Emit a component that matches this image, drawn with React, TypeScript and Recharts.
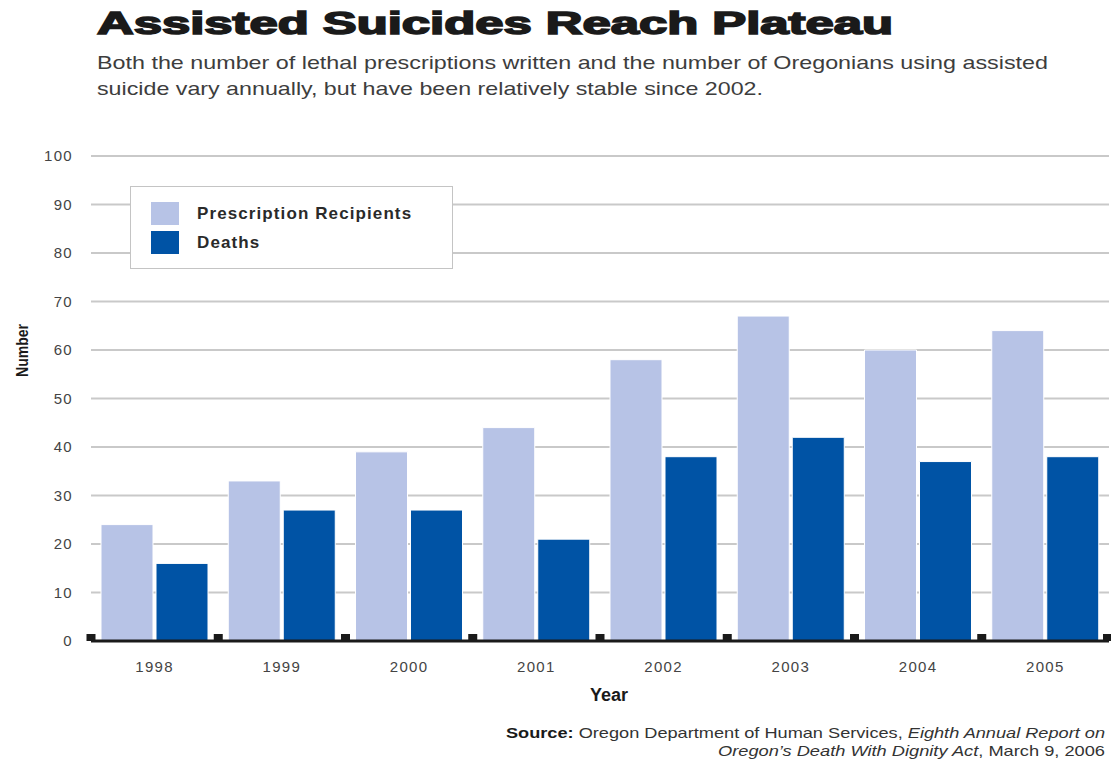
import { BarChart, Bar, XAxis, YAxis, CartesianGrid, Legend } from 'recharts';

const years = ['1998', '1999', '2000', '2001', '2002', '2003', '2004', '2005'];
const prescriptionRecipients = [24, 33, 39, 44, 58, 67, 60, 64];
const deaths = [16, 27, 27, 21, 38, 42, 37, 38];
const yTicks = [0, 10, 20, 30, 40, 50, 60, 70, 80, 90, 100];
const seriesNames = ['Prescription Recipients', 'Deaths'];

const data = years.map((year, i) => ({
  year,
  recipients: prescriptionRecipients[i],
  deaths: deaths[i],
}));

const LIGHT = '#b7c3e6';
const DARK = '#0053a5';
const FONT = '"Liberation Sans", Arial, Helvetica, sans-serif';

const YearTick = (props: any) => {
  const { x, y, payload, index, visibleTicksCount } = props;
  const half = payload && payload.offset ? payload.offset : 63.6;
  const last = index === (visibleTicksCount ?? years.length) - 1;
  return (
    <g>
      <rect x={x - half - 4.5} y={y - 7} width={9} height={7} fill="#1a1a1a" />
      {last && <rect x={x + half - 6} y={y - 7} width={9} height={7} fill="#1a1a1a" />}
      <text
        x={x}
        y={y + 31}
        textAnchor="middle"
        fontSize={15}
        letterSpacing={1.3}
        fill="#444"
        fontFamily={FONT}
      >
        {payload.value}
      </text>
    </g>
  );
};

const LegendBox = (props: any) => {
  const items = [...(props.payload || [])].sort(
    (a: any, b: any) => seriesNames.indexOf(a.value) - seriesNames.indexOf(b.value)
  );
  return (
    <div
      style={{
        width: 323,
        height: 83,
        border: '1.5px solid #c4c4c4',
        background: '#fff',
        boxSizing: 'border-box',
        paddingTop: 12,
        paddingLeft: 20,
      }}
    >
      {items.map((it: any) => (
        <div key={it.value} style={{ display: 'flex', alignItems: 'center', height: 29 }}>
          <span style={{ width: 28, height: 23, background: it.color, display: 'inline-block' }} />
          <span
            style={{
              marginLeft: 18,
              fontFamily: FONT,
              fontWeight: 700,
              fontSize: 17,
              letterSpacing: 1.1,
              color: '#2a2a2a',
            }}
          >
            {it.value}
          </span>
        </div>
      ))}
    </div>
  );
};

const NumberLabel = (props: any) => {
  const vb = props.viewBox || { x: 0, y: 156, height: 485 };
  const cx = vb.x + 22;
  const cy = vb.y + vb.height / 2 - 48;
  return (
    <text
      x={cx}
      y={cy}
      transform={`rotate(-90 ${cx} ${cy})`}
      textAnchor="middle"
      dominantBaseline="central"
      fontFamily={FONT}
      fontWeight={700}
      fontSize={16}
      fill="#1a1a1a"
      textLength={53}
      lengthAdjust="spacingAndGlyphs"
    >
      Number
    </text>
  );
};

export default function App() {
  return (
    <div style={{ position: 'absolute', left: 0, top: 0, width: 1111, height: 763, background: '#fff' }}>
      <BarChart
        width={1111}
        height={763}
        data={data}
        margin={{ top: 156, right: 2, left: 0, bottom: 62 }}
        barCategoryGap={10}
        barGap={3}
      >
        <CartesianGrid horizontal vertical={false} stroke="#c9c9c9" strokeWidth={2} />
        <XAxis
          dataKey="year"
          height={60}
          axisLine={{ stroke: '#1a1a1a', strokeWidth: 3 }}
          tickLine={false}
          tickSize={0}
          tickMargin={0}
          tick={<YearTick />}
          interval={0}
          label={{
            value: 'Year',
            position: 'insideBottom',
            offset: 0,
            dx: 9,
            style: { fontFamily: FONT, fontWeight: 700, fontSize: 18, fill: '#1a1a1a' },
          }}
        />
        <YAxis
          width={91}
          domain={[0, 100]}
          ticks={yTicks}
          axisLine={false}
          tickLine={false}
          tickSize={0}
          tickMargin={18}
          tick={{ fontSize: 15, fill: '#444', fontFamily: FONT, letterSpacing: 1.3 }}
          label={<NumberLabel />}
        />
        <Legend
          layout="horizontal"
          verticalAlign="middle"
          align="center"
          content={<LegendBox />}
          wrapperStyle={{ position: 'absolute', left: 130, top: 186, width: 323, height: 83 }}
        />
        <Bar
          dataKey="recipients"
          name="Prescription Recipients"
          fill={LIGHT}
          stroke="#fff"
          strokeWidth={1}
          isAnimationActive={false}
        />
        <Bar dataKey="deaths" name="Deaths" fill={DARK} stroke="#fff" strokeWidth={1} isAnimationActive={false} />
      </BarChart>
      <svg
        width={1111}
        height={763}
        style={{ position: 'absolute', left: 0, top: 0, pointerEvents: 'none' }}
      >
        <text
          x={97}
          y={34}
          fontFamily={FONT}
          fontWeight={900}
          fontSize={31}
          fill="#1a1a1a"
          stroke="#1a1a1a"
          strokeWidth={1.6}
          textLength={796}
          lengthAdjust="spacingAndGlyphs"
        >
          Assisted Suicides Reach Plateau
        </text>
        <text x={97} y={69} fontFamily={FONT} fontSize={19} fill="#3d3d3d" textLength={951} lengthAdjust="spacingAndGlyphs">
          Both the number of lethal prescriptions written and the number of Oregonians using assisted
        </text>
        <text x={97} y={95} fontFamily={FONT} fontSize={19} fill="#3d3d3d" textLength={666} lengthAdjust="spacingAndGlyphs">
          suicide vary annually, but have been relatively stable since 2002.
        </text>
        <text
          x={1105}
          y={738}
          textAnchor="end"
          fontFamily={FONT}
          fontSize={15}
          fill="#333"
          textLength={599}
          lengthAdjust="spacingAndGlyphs"
        >
          <tspan fontWeight={700} fill="#1a1a1a">Source:</tspan>
          <tspan> Oregon Department of Human Services, </tspan>
          <tspan fontStyle="italic">Eighth Annual Report on</tspan>
        </text>
        <text
          x={1105}
          y={756}
          textAnchor="end"
          fontFamily={FONT}
          fontSize={15}
          fill="#333"
          textLength={387}
          lengthAdjust="spacingAndGlyphs"
        >
          <tspan fontStyle="italic">Oregon’s Death With Dignity Act</tspan>
          <tspan>, March 9, 2006</tspan>
        </text>
      </svg>
    </div>
  );
}
